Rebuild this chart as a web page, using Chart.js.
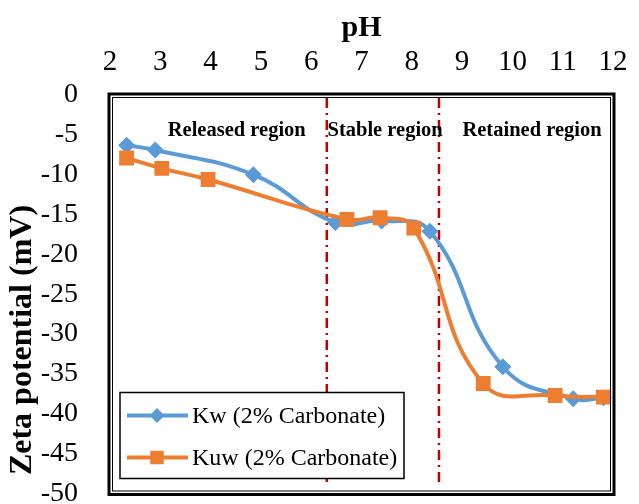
<!DOCTYPE html>
<html>
<head>
<meta charset="utf-8">
<script src="https://cdn.jsdelivr.net/npm/chart.js@4.4.1/dist/chart.umd.min.js"></script>
<style>
    html, body { margin: 0; padding: 0; background: #fff; overflow: hidden; }
    #wrap { width: 639px; height: 504px; position: relative; }
</style>
</head>
<body>
<div id="wrap"><canvas id="zetaChart"></canvas></div>
<script>
// Zeta potential vs pH data
const kwPH = [2.33, 2.9, 4.85, 6.48, 7.4, 8.36, 9.81, 11.21, 11.81];
const kwZeta = [-6.3, -6.9, -10.0, -16.0, -15.8, -17.1, -34.1, -38.1, -38.0];
const kuwPH = [2.33, 3.03, 3.95, 6.71, 7.37, 8.04, 9.42, 10.85, 11.81];
const kuwZeta = [-7.9, -9.2, -10.6, -15.6, -15.4, -16.7, -36.2, -37.7, -37.9];

const seriesLabels = ['Kw (2% Carbonate)', 'Kuw (2% Carbonate)'];
const xTicks = [2, 3, 4, 5, 6, 7, 8, 9, 10, 11, 12];
const yTicks = [0, -5, -10, -15, -20, -25, -30, -35, -40, -45, -50];
const yTitle = 'Zeta potential (mV)';

// Region boundaries (pH) and region captions
const boundaryPH = [6.31, 8.54];
const regionNames = ['Released region', 'Stable region', 'Retained region'];
const regionPH = [4.52, 7.47, 10.39];
const regionZeta = -4.5;

const serif = '"Liberation Serif", "Times New Roman", serif';
const blue = '#5B9BD5';
const orange = '#ED7D31';
const darkRed = '#C00000';

const toPoints = (xs, ys) => xs.map((x, i) => ({ x, y: ys[i] }));

// Double frame, region lines, captions, y title and legend
const decorations = {
    id: 'decorations',
    beforeDatasetsDraw(chart) {
        const { ctx, chartArea: a, scales } = chart;
        ctx.save();
        ctx.strokeStyle = darkRed;
        ctx.lineWidth = 2.5;
        ctx.setLineDash([10, 5, 2, 5]);
        boundaryPH.forEach(ph => {
            const x = scales.x.getPixelForValue(ph);
            ctx.beginPath();
            ctx.moveTo(x, a.top + 3);
            ctx.lineTo(x, scales.y.getPixelForValue(-48.8));
            ctx.stroke();
        });
        ctx.setLineDash([]);

        ctx.fillStyle = '#000';
        ctx.font = 'bold 20.5px ' + serif;
        ctx.textAlign = 'center';
        ctx.textBaseline = 'middle';
        regionNames.forEach((name, i) => {
            ctx.fillText(name, scales.x.getPixelForValue(regionPH[i]), scales.y.getPixelForValue(regionZeta));
        });

        // vertical axis title, sits low beside the ticks
        ctx.translate(23, 340);
        ctx.rotate(-Math.PI / 2);
        ctx.font = 'bold 32px ' + serif;
        ctx.fillText(yTitle, 0, 0);
        ctx.restore();
    },
    afterDraw(chart) {
        const { ctx, chartArea: a } = chart;
        ctx.save();
        ctx.strokeStyle = '#000';
        ctx.lineWidth = 3;
        ctx.strokeRect(a.left - 1, a.top - 1, a.right - a.left + 2, a.bottom - a.top + 2);
        ctx.lineWidth = 1;
        ctx.strokeRect(a.left + 2.5, a.top + 2.5, a.right - a.left - 5, a.bottom - a.top - 5);

        // Legend box in the lower left corner
        const boxX = a.left + 10, boxY = a.bottom - 101, boxW = 284, boxH = 86;
        ctx.fillStyle = '#fff';
        ctx.fillRect(boxX, boxY, boxW, boxH);
        ctx.lineWidth = 1.5;
        ctx.strokeRect(boxX, boxY, boxW, boxH);
        ctx.font = '24px ' + serif;
        ctx.textAlign = 'left';
        ctx.textBaseline = 'middle';
        chart.data.datasets.forEach((ds, i) => {
            const y = boxY + 23 + i * 42;
            ctx.strokeStyle = ds.borderColor;
            ctx.lineWidth = 4;
            ctx.beginPath();
            ctx.moveTo(boxX + 7, y);
            ctx.lineTo(boxX + 68, y);
            ctx.stroke();
            ctx.fillStyle = ds.backgroundColor;
            Chart.helpers.drawPoint(ctx, {
                pointStyle: ds.pointStyle,
                radius: ds.pointRadius - 1,
                borderWidth: 0
            }, boxX + 37, y);
            ctx.fillStyle = '#000';
            ctx.fillText(ds.label, boxX + 72, y + 1);
        });
        ctx.restore();
    }
};

new Chart(document.getElementById('zetaChart'), {
    type: 'scatter',
    data: {
        datasets: [
            {
                label: seriesLabels[0],
                data: toPoints(kwPH, kwZeta),
                showLine: true,
                tension: 0.45,
                borderColor: blue,
                backgroundColor: blue,
                borderWidth: 4,
                pointStyle: 'rectRot',
                pointRadius: 8.5,
                pointBorderWidth: 0,
                order: 1
            },
            {
                label: seriesLabels[1],
                data: toPoints(kuwPH, kuwZeta),
                showLine: true,
                tension: 0.45,
                borderColor: orange,
                backgroundColor: orange,
                borderWidth: 4,
                pointStyle: 'rect',
                pointRadius: 10.5,
                pointBorderWidth: 0,
                order: 0
            }
        ]
    },
    options: {
        responsive: true,
        maintainAspectRatio: false,
        animation: false,
        layout: { padding: { left: 0, right: 26, top: 0, bottom: 9 } },
        plugins: {
            legend: { display: false },
            tooltip: { enabled: false }
        },
        scales: {
            x: {
                type: 'linear',
                position: 'top',
                min: 2,
                max: 12,
                afterBuildTicks: axis => { axis.ticks = xTicks.map(v => ({ value: v })); },
                afterFit: axis => { axis.height = 95; },
                grid: { display: false },
                border: { display: false },
                ticks: { color: '#000', font: { family: serif, size: 29 }, padding: 7, maxRotation: 0 },
                title: {
                    display: true,
                    text: 'pH',
                    color: '#000',
                    font: { family: serif, size: 30, weight: 'bold' },
                    padding: { top: 10, bottom: 0 }
                }
            },
            y: {
                type: 'linear',
                min: -50,
                max: 0,
                afterBuildTicks: axis => { axis.ticks = yTicks.map(v => ({ value: v })); },
                afterFit: axis => {
                    axis.width = 110;
                    axis.paddingTop = 0;
                    axis.paddingBottom = 0;
                },
                grid: { display: false },
                border: { display: false },
                ticks: { color: '#000', font: { family: serif, size: 28 }, padding: 24 }
            }
        }
    },
    plugins: [decorations]
});
</script>
</body>
</html>
